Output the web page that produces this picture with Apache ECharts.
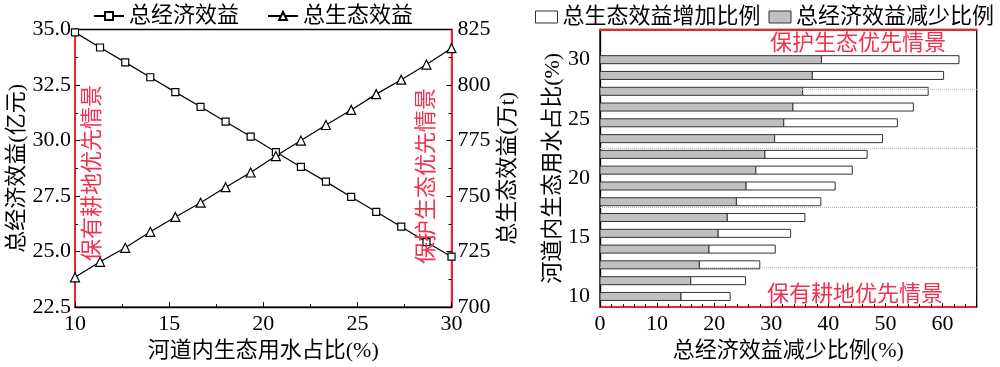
<!DOCTYPE html>
<html><head><meta charset="utf-8">
<script src="https://cdn.jsdelivr.net/npm/echarts@6/dist/echarts.min.js"></script>
<style>html,body{margin:0;padding:0;background:#fff}#c{width:1000px;height:367px}</style>
</head><body><div id="c"></div>
<script>
// ---- Left chart data ----
const waterShare = [10, 11.33, 12.67, 14, 15.33, 16.67, 18, 19.33, 20.67, 22, 23.33, 24.67, 26, 27.33, 28.67, 30];
const econBenefit = [34.87, 34.19, 33.52, 32.85, 32.18, 31.52, 30.85, 30.18, 29.48, 28.81, 28.15, 27.46, 26.79, 26.12, 25.43, 24.77];
const ecoBenefit = [713.4, 720.4, 726.7, 733.9, 740.6, 747.0, 754.0, 760.6, 768.0, 775.0, 782.0, 788.8, 795.9, 802.4, 809.2, 816.6];
// ---- Right chart data ----
const econDecrease = [14.2, 15.9, 17.4, 19.1, 20.7, 22.3, 23.9, 25.6, 27.3, 28.9, 30.6, 32.2, 33.8, 35.5, 37.2, 38.8];
const ecoIncrease = [8.6, 9.6, 10.6, 11.6, 12.7, 13.6, 14.8, 15.6, 16.9, 17.9, 18.9, 19.9, 21.1, 22.0, 23.0, 24.1];
const rightYTicks = [10, 15, 20, 25, 30];
const rightGridLines = [12.5, 17.5, 22.5, 27.5];

const FONT = "'Liberation Serif', 'Noto Sans CJK SC', serif";
const RED = '#ee2233';
const TXTRED = '#f0314f';
const FS = 22;

const chart = echarts.init(document.getElementById('c'));

function barRender(params, api) {
  const y = api.value(2);
  const p0 = api.coord([api.value(0), y]);
  const p1 = api.coord([api.value(1), y]);
  const h = 8;
  return {
    type: 'rect',
    shape: { x: p0[0], y: p0[1] - h / 2, width: p1[0] - p0[0], height: h },
    style: api.style()
  };
}

const greyData = waterShare.map((y, i) => [0, econDecrease[i], y]);
const whiteData = waterShare.map((y, i) => [econDecrease[i], econDecrease[i] + ecoIncrease[i], y]);

const axisLbl = { color: '#000', fontFamily: FONT, fontSize: FS };
const nameStyle = { color: '#000', fontFamily: FONT, fontSize: FS };

chart.setOption({
  animation: false,
  textStyle: { fontFamily: FONT },
  grid: [
    { left: 75, right: 548.5, top: 29.5, bottom: 57, show: true, borderColor: '#000', borderWidth: 1.3, containLabel: false },
    { left: 600, right: 23.3, top: 29.5, bottom: 57, show: true, borderColor: '#000', borderWidth: 1.3, containLabel: false }
  ],
  legend: [
    {
      left: 88, top: 0, itemWidth: 30, itemHeight: 10, itemGap: 28,
      textStyle: { fontFamily: FONT, fontSize: FS, color: '#000' },
      data: ['总经济效益', '总生态效益']
    },
    {
      left: 530, top: 1, width: 470, itemWidth: 22, itemHeight: 12, itemGap: 8,
      textStyle: { fontFamily: FONT, fontSize: FS, color: '#000' },
      data: [
        { name: '总生态效益增加比例', icon: 'rect', itemStyle: { color: '#fff', borderColor: '#333', borderWidth: 1 } },
        { name: '总经济效益减少比例', icon: 'rect', itemStyle: { color: '#c0c0c0', borderColor: '#333', borderWidth: 1 } }
      ]
    }
  ],
  xAxis: [
    {
      gridIndex: 0, type: 'value', min: 10, max: 30, interval: 5,
      name: '河道内生态用水占比(%)', nameLocation: 'middle', nameGap: 32, nameTextStyle: nameStyle,
      axisLine: { lineStyle: { color: '#000', width: 1.3 } },
      axisTick: { inside: true, length: 5, lineStyle: { color: '#000' } },
      minorTick: { show: true, splitNumber: 2, length: 3, lineStyle: { color: '#000' } },
      axisLabel: Object.assign({ margin: 6 }, axisLbl),
      splitLine: { show: false }
    },
    {
      gridIndex: 1, type: 'value', min: 0, max: 66, interval: 10,
      name: '总经济效益减少比例(%)', nameLocation: 'middle', nameGap: 32, nameTextStyle: nameStyle,
      axisLine: { lineStyle: { color: RED, width: 2 } },
      axisTick: { inside: true, length: 4, lineStyle: { color: '#000' } },
      minorTick: { show: true, splitNumber: 5, length: 3, lineStyle: { color: '#000' } },
      axisLabel: Object.assign({ margin: 6, showMaxLabel: false }, axisLbl),
      splitLine: { show: false }
    },
    {
      gridIndex: 1, type: 'value', min: 0, max: 66, position: 'top',
      axisLine: { show: true, onZero: false, lineStyle: { color: RED, width: 2 } },
      axisTick: { show: false }, axisLabel: { show: false }, splitLine: { show: false }
    }
  ],
  yAxis: [
    {
      gridIndex: 0, type: 'value', min: 22.5, max: 35, interval: 2.5,
      name: '总经济效益(亿元)', nameLocation: 'middle', nameRotate: 90, nameGap: 47, nameTextStyle: nameStyle,
      axisLine: { show: true, lineStyle: { color: RED, width: 2 } },
      axisTick: { show: true, inside: true, length: 5, lineStyle: { color: '#000' } },
      minorTick: { show: true, splitNumber: 2, length: 3, lineStyle: { color: '#000' } },
      axisLabel: Object.assign({ margin: 4, formatter: v => v.toFixed(1) }, axisLbl),
      splitLine: { show: false }
    },
    {
      gridIndex: 0, type: 'value', min: 700, max: 825, interval: 25, position: 'right',
      name: '总生态效益(万t)', nameLocation: 'middle', nameRotate: 90, nameGap: 46, nameTextStyle: nameStyle,
      axisLine: { show: true, lineStyle: { color: RED, width: 2 } },
      axisTick: { show: true, inside: true, length: 5, lineStyle: { color: '#000' } },
      minorTick: { show: true, splitNumber: 2, length: 3, lineStyle: { color: '#000' } },
      axisLabel: Object.assign({ margin: 6 }, axisLbl),
      splitLine: { show: false }
    },
    {
      gridIndex: 1, type: 'value', min: 9.1, max: 32.55,
      name: '河道内生态用水占比(%)', nameLocation: 'middle', nameRotate: 90, nameGap: 29, nameTextStyle: nameStyle,
      axisLine: { show: true, lineStyle: { color: '#000', width: 1.3 } },
      axisTick: { show: false },
      axisLabel: Object.assign({ margin: 10, customValues: rightYTicks }, axisLbl),
      splitLine: { show: false }
    }
  ],
  series: [
    {
      name: '总经济效益', type: 'line', xAxisIndex: 0, yAxisIndex: 0,
      data: waterShare.map((x, i) => [x, econBenefit[i]]),
      symbol: 'rect', symbolSize: 7, clip: false,
      lineStyle: { color: '#000', width: 1.2 },
      itemStyle: { color: '#fff', borderColor: '#000', borderWidth: 1.2 }
    },
    {
      name: '总生态效益', type: 'line', xAxisIndex: 0, yAxisIndex: 1,
      data: waterShare.map((x, i) => [x, ecoBenefit[i]]),
      symbol: 'triangle', symbolSize: 9, clip: false,
      lineStyle: { color: '#000', width: 1.2 },
      itemStyle: { color: '#fff', borderColor: '#000', borderWidth: 1.2 }
    },
    {
      name: 'grid-lines', type: 'line', xAxisIndex: 1, yAxisIndex: 2, data: [], z: 1,
      markLine: {
        silent: true, symbol: 'none', label: { show: false },
        lineStyle: { color: '#bbb', type: 'dotted', width: 1 },
        data: rightGridLines.map(v => ({ yAxis: v }))
      }
    },
    {
      name: '总经济效益减少比例', type: 'custom', xAxisIndex: 1, yAxisIndex: 2, z: 3,
      renderItem: barRender, data: greyData, encode: { x: [0, 1], y: 2 },
      itemStyle: { color: '#c0c0c0', borderColor: '#333', borderWidth: 1 }
    },
    {
      name: '总生态效益增加比例', type: 'custom', xAxisIndex: 1, yAxisIndex: 2, z: 3,
      renderItem: barRender, data: whiteData, encode: { x: [0, 1], y: 2 },
      itemStyle: { color: '#fff', borderColor: '#333', borderWidth: 1 }
    }
  ],
  graphic: [
    { type: 'text', x: 93, y: 173, rotation: Math.PI / 2, z: 10,
      style: { text: '保有耕地优先情景', fill: TXTRED, font: FS + "px " + FONT, textAlign: 'center', textVerticalAlign: 'middle' } },
    { type: 'text', x: 427, y: 176, rotation: Math.PI / 2, z: 10,
      style: { text: '保护生态优先情景', fill: TXTRED, font: FS + "px " + FONT, textAlign: 'center', textVerticalAlign: 'middle' } },
    { type: 'text', x: 858, y: 44, z: 10,
      style: { text: '保护生态优先情景', fill: TXTRED, font: FS + "px " + FONT, textAlign: 'center', textVerticalAlign: 'middle' } },
    { type: 'text', x: 855, y: 295, z: 10,
      style: { text: '保有耕地优先情景', fill: TXTRED, font: FS + "px " + FONT, textAlign: 'center', textVerticalAlign: 'middle' } }
  ]
});
</script>
</body></html>
